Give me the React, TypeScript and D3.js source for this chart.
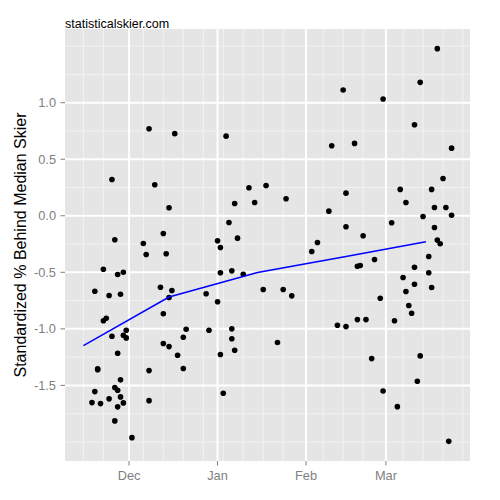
import React from "react";
import * as d3 from "d3";

// ---- data ----
const pointDates: string[] = [
  "2012-12-08","2012-12-17","2012-11-25","2012-12-10","2012-12-15","2012-12-13","2012-11-26","2012-12-06","2012-12-07","2012-12-14",
  "2012-11-22","2012-11-27","2012-11-29","2012-11-19","2012-11-24","2012-11-28","2012-12-12","2012-12-16","2012-12-15","2012-12-13",
  "2012-11-22","2012-11-23","2012-12-21","2012-12-20","2012-11-30","2012-11-29","2012-11-30","2012-11-25","2012-12-13","2012-12-15",
  "2012-12-18","2012-11-27","2012-11-20","2012-11-20","2012-12-08","2012-12-20","2012-11-28","2012-11-26","2012-11-27","2012-11-19",
  "2012-11-28","2012-11-24","2012-11-18","2012-11-21","2012-11-29","2012-11-27","2012-12-08","2012-11-26","2012-12-02",
  "2013-01-04","2013-01-12","2013-01-18","2013-01-07","2013-01-14","2013-01-25","2013-01-05","2013-01-01","2013-01-08","2013-01-02",
  "2013-02-03","2013-02-05","2013-01-02","2013-01-06","2013-01-10","2013-01-17","2013-01-24","2013-01-27","2012-12-28","2013-01-01",
  "2012-12-29","2013-01-06","2013-01-06","2013-01-07","2013-01-02","2013-01-22","2013-01-03",
  "2013-03-19","2013-03-13","2013-02-14","2013-02-28","2013-03-11","2013-02-10","2013-02-18","2013-03-24","2013-03-21","2013-03-06",
  "2013-03-17","2013-02-15","2013-03-08","2013-02-09","2013-03-18","2013-03-22","2013-03-24","2013-03-14","2013-02-15","2013-03-03",
  "2013-02-21","2013-03-18","2013-03-19","2013-03-20","2013-03-16","2013-02-25","2013-02-19","2013-02-20","2013-03-11","2013-03-16",
  "2013-03-07","2013-03-11","2013-03-17","2013-03-08","2013-02-27","2013-03-09","2013-03-10","2013-02-12","2013-02-15","2013-02-19",
  "2013-02-22","2013-03-04","2013-02-24","2013-03-13","2013-03-12","2013-02-28","2013-03-05","2013-03-23",
];
const pointValues: number[] = [
  0.770, 0.726, 0.321, 0.274, 0.071, -0.157, -0.212, -0.245, -0.342, -0.336,
  -0.473, -0.519, -0.499, -0.667, -0.705, -0.694, -0.632, -0.661, -0.723, -0.867,
  -0.929, -0.906, -1.004, -1.074, -1.012, -1.057, -1.080, -1.065, -1.130, -1.157,
  -1.234, -1.216, -1.354, -1.362, -1.369, -1.351, -1.451, -1.519, -1.543, -1.555,
  -1.602, -1.619, -1.652, -1.661, -1.655, -1.690, -1.635, -1.814, -1.962,
  0.704, 0.248, 0.268, 0.109, 0.118, 0.150, -0.059, -0.221, -0.198, -0.281,
  -0.316, -0.236, -0.504, -0.487, -0.517, -0.652, -0.652, -0.708, -0.690, -0.761,
  -1.012, -1.000, -1.088, -1.189, -1.227, -1.121, -1.570,
  1.478, 1.180, 1.112, 1.032, 0.805, 0.619, 0.640, 0.598, 0.330, 0.233,
  0.233, 0.200, 0.118, 0.041, 0.073, 0.073, 0.005, -0.006, -0.097, -0.062,
  -0.177, -0.104, -0.215, -0.248, -0.360, -0.387, -0.446, -0.440, -0.455, -0.504,
  -0.546, -0.605, -0.635, -0.670, -0.729, -0.794, -0.862, -0.968, -0.980, -0.918,
  -0.918, -0.929, -1.263, -1.239, -1.464, -1.549, -1.688, -1.995,
];
const trendDates: string[] = ["2012-11-15", "2012-12-15", "2013-01-15", "2013-02-15", "2013-03-15"];
const trendValues: number[] = [-1.148, -0.719, -0.502, -0.361, -0.230];

const xMajorDates: string[] = ["2012-12-01", "2013-01-01", "2013-02-01", "2013-03-01"];
const xMajorLabels: string[] = ["Dec", "Jan", "Feb", "Mar"];
const xMinorDates: string[] = [
  "2012-11-15","2012-11-22","2012-12-06","2012-12-13","2012-12-20","2012-12-27","2013-01-03","2013-01-10",
  "2013-01-17","2013-01-24","2013-02-07","2013-02-14","2013-02-21","2013-03-07","2013-03-14","2013-03-21","2013-03-28",
];
const yMajorTicks: number[] = [-1.5, -1.0, -0.5, 0.0, 0.5, 1.0];
const yMinorTicks: number[] = [-2.0, -1.75, -1.25, -0.75, -0.25, 0.25, 0.75, 1.25, 1.5];

const title = "statisticalskier.com";
const yTitle = "Standardized % Behind Median Skier";

// ---- layout ----
const W = 500, H = 500;
const P = { left: 65, right: 470, top: 29, bottom: 461 };
const FONT = "'Liberation Sans', Arial, Helvetica, sans-serif";

const parse = d3.utcParse("%Y-%m-%d");

export default function App() {
  const pts = pointDates.map((d, i) => ({ date: parse(d) as Date, v: pointValues[i] }));
  const trend = trendDates.map((d, i) => ({ date: parse(d) as Date, v: trendValues[i] }));

  const allDates = [...pts.map(p => +p.date), ...trend.map(p => +p.date)];
  const allVals = [...pts.map(p => p.v), ...trend.map(p => p.v)];
  const [dmin, dmax] = d3.extent(allDates) as [number, number];
  const [vmin, vmax] = d3.extent(allVals) as [number, number];
  const dpad = (dmax - dmin) * 0.05;
  const vpad = (vmax - vmin) * 0.05;

  const x = d3.scaleUtc().domain([new Date(dmin - dpad), new Date(dmax + dpad)]).range([P.left, P.right]);
  const y = d3.scaleLinear().domain([vmin - vpad, vmax + vpad]).range([P.bottom, P.top]);

  const line = d3.line<{ date: Date; v: number }>().x(d => x(d.date)).y(d => y(d.v));

  return (
    <svg width={W} height={H} style={{ position: "absolute", left: 0, top: 0, background: "#fff" }}>
      <rect x={P.left} y={P.top} width={P.right - P.left} height={P.bottom - P.top} fill="#E5E5E5" />
      {/* minor grid */}
      {yMinorTicks.map(t => (
        <line key={"ym" + t} x1={P.left} x2={P.right} y1={y(t)} y2={y(t)} stroke="#F2F2F2" strokeWidth={1} />
      ))}
      {xMinorDates.map(d => (
        <line key={"xm" + d} x1={x(parse(d) as Date)} x2={x(parse(d) as Date)} y1={P.top} y2={P.bottom} stroke="#F2F2F2" strokeWidth={1} />
      ))}
      {/* major grid */}
      {yMajorTicks.map(t => (
        <line key={"yM" + t} x1={P.left} x2={P.right} y1={y(t)} y2={y(t)} stroke="#FFFFFF" strokeWidth={2} />
      ))}
      {xMajorDates.map(d => (
        <line key={"xM" + d} x1={x(parse(d) as Date)} x2={x(parse(d) as Date)} y1={P.top} y2={P.bottom} stroke="#FFFFFF" strokeWidth={2} />
      ))}
      {/* points */}
      {pts.map((p, i) => (
        <circle key={"p" + i} cx={x(p.date)} cy={y(p.v)} r={2.8} fill="#000" />
      ))}
      {/* trend line */}
      <path d={line(trend) || ""} fill="none" stroke="#0000FF" strokeWidth={1.5} />
      {/* y axis ticks + labels */}
      {yMajorTicks.map(t => (
        <g key={"yt" + t}>
          <line x1={P.left - 4.5} x2={P.left} y1={y(t)} y2={y(t)} stroke="#7F7F7F" strokeWidth={1} />
          <text x={P.left - 9} y={y(t)} dy="0.35em" textAnchor="end" fontFamily={FONT} fontSize={12.8} fill="#7F7F7F">
            {t.toFixed(1)}
          </text>
        </g>
      ))}
      {/* x axis ticks + labels */}
      {xMajorDates.map((d, i) => (
        <g key={"xt" + d}>
          <line x1={x(parse(d) as Date)} x2={x(parse(d) as Date)} y1={P.bottom} y2={P.bottom + 4.5} stroke="#7F7F7F" strokeWidth={1} />
          <text x={x(parse(d) as Date)} y={P.bottom + 19} textAnchor="middle" fontFamily={FONT} fontSize={12.8} fill="#7F7F7F">
            {xMajorLabels[i]}
          </text>
        </g>
      ))}
      {/* titles */}
      <text x={P.left} y={27.5} fontFamily={FONT} fontSize={12.5} fill="#000">{title}</text>
      <text
        transform={`translate(26,${(P.top + P.bottom) / 2}) rotate(-90)`}
        textAnchor="middle"
        fontFamily={FONT}
        fontSize={16}
        fill="#000"
      >
        {yTitle}
      </text>
    </svg>
  );
}
